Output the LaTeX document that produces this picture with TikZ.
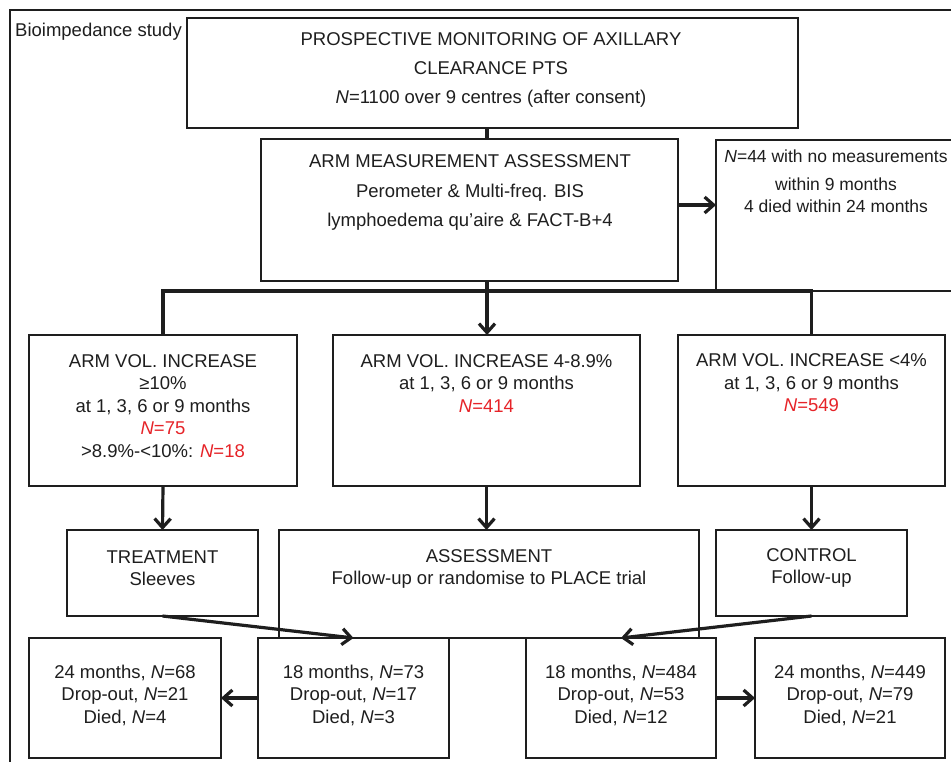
\documentclass[tikz,border=0pt]{standalone}
\usepackage{fontspec}
\setmainfont{Liberation Sans}
\usetikzlibrary{arrows.meta}
\definecolor{nred}{RGB}{230,35,40}
\definecolor{ink}{RGB}{30,30,30}
\begin{document}
\begin{tikzpicture}[x=1pt,y=-1pt,
  box/.style={draw=ink, line width=1.2pt, anchor=north west, inner sep=0pt, outer sep=0pt},
  txt/.style={align=center, text=ink, inner sep=0pt, font=\fontsize{18.5}{22.5}\selectfont},
  conn/.style={draw=ink, line width=3.2pt},
  arr/.style={conn, -{Straight Barb[length=9pt,width=16pt]}}]
\useasboundingbox (0,0) rectangle (951,762);
\clip (0,0) rectangle (951,762);
\fill[white] (0,0) rectangle (951,762);
% outer frame
\draw[ink, line width=1.5pt] (10,10) rectangle (990,800);
\node[txt, anchor=west] (lbl) at (15,32) {Bioimpedance study};
% boxes
\node[box, minimum width=611pt, minimum height=110pt] (A) at (187,18) {};
\node[box, minimum width=417pt, minimum height=142pt] (B) at (261,139) {};
\node[box, minimum width=260pt, minimum height=151pt] (C) at (716,140) {};
\node[box, minimum width=268pt, minimum height=151pt] (L2) at (29,335) {};
\node[box, minimum width=307pt, minimum height=151pt] (M2) at (333,335) {};
\node[box, minimum width=267pt, minimum height=151pt] (R2) at (678,335) {};
\node[box, minimum width=191pt, minimum height=86pt] (T3) at (67,530) {};
\node[box, minimum width=420pt, minimum height=108pt] (A3) at (279,530) {};
\node[box, minimum width=191pt, minimum height=86pt] (C3) at (716,530) {};
\node[box, minimum width=192pt, minimum height=120pt] (B1) at (29,638) {};
\node[box, minimum width=191pt, minimum height=120pt] (B2) at (258,638) {};
\node[box, minimum width=190pt, minimum height=120pt] (B3) at (526,638) {};
\node[box, minimum width=190pt, minimum height=120pt] (B4) at (755,638) {};
% texts
\node[txt, font=\fontsize{18.5}{29}\selectfont] (At) at (491,70)
  {PROSPECTIVE MONITORING OF AXILLARY\\CLEARANCE PTS\\\textit{N}=1100 over 9 centres (after consent)};
\node[txt, font=\fontsize{18.5}{29.5}\selectfont] (Bt) at (470,192.5)
  {ARM MEASUREMENT ASSESSMENT\\Perometer \& Multi-freq. BIS\\lymphoedema qu’aire \& FACT-B+4};
\node[txt, font=\fontsize{17.5}{22}\selectfont] (Ct) at (836,181)
  {\textit{N}=44 with no measurements\\[6pt]within 9 months\\4 died within 24 months};
\node[txt] (L2t) at (163,406)
  {ARM VOL. INCREASE\\≥10\%\\at 1, 3, 6 or 9 months\\\textcolor{nred}{\textit{N}=75}\\>8.9\%-<10\%: \textcolor{nred}{\textit{N}=18}};
\node[txt] (M2t) at (486.5,383.5)
  {ARM VOL. INCREASE 4-8.9\%\\at 1, 3, 6 or 9 months\\\textcolor{nred}{\textit{N}=414}};
\node[txt] (R2t) at (811.5,383)
  {ARM VOL. INCREASE <4\%\\at 1, 3, 6 or 9 months\\\textcolor{nred}{\textit{N}=549}};
\node[txt] (T3t) at (162.5,568) {TREATMENT\\Sleeves};
\node[txt] (A3t) at (489,569) {ASSESSMENT\\Follow-up or randomise to PLACE trial};
\node[txt] (C3t) at (811.5,568) {CONTROL\\Follow-up};
\node[txt] (B1t) at (125,695) {24 months, \textit{N}=68\\Drop-out, \textit{N}=21\\Died, \textit{N}=4};
\node[txt] (B2t) at (353.5,695) {18 months, \textit{N}=73\\Drop-out, \textit{N}=17\\Died, \textit{N}=3};
\node[txt] (B3t) at (621,695) {18 months, \textit{N}=484\\Drop-out, \textit{N}=53\\Died, \textit{N}=12};
\node[txt] (B4t) at (850,695) {24 months, \textit{N}=449\\Drop-out, \textit{N}=79\\Died, \textit{N}=21};
% connectors
\coordinate (bus) at (487,291);
\draw[conn] (A.south -| bus) -- (B.north -| bus);
\draw[conn] (B.south -| bus) -- (bus);
\draw[conn] (L2.north) -- (L2.north |- bus) -- (R2.north |- bus) -- (R2.north);
\draw[arr] (bus) -- (M2.north -| bus);
\draw[arr] ([yshift=5pt]B.east) -- ([yshift=5pt]B.east -| C.west);
\draw[arr] (L2.south) -- (T3.north);
\draw[arr] (M2.south) -- (M2.south |- A3.north);
\draw[arr] (R2.south) -- (C3.north);
\draw[arr] (T3.south) -- (B2.north);
\draw[arr] (C3.south) -- (B3.north);
\draw[arr] (B2.west) -- (B1.east);
\draw[arr] (B3.east) -- (B4.west);
\end{tikzpicture}
\end{document}
